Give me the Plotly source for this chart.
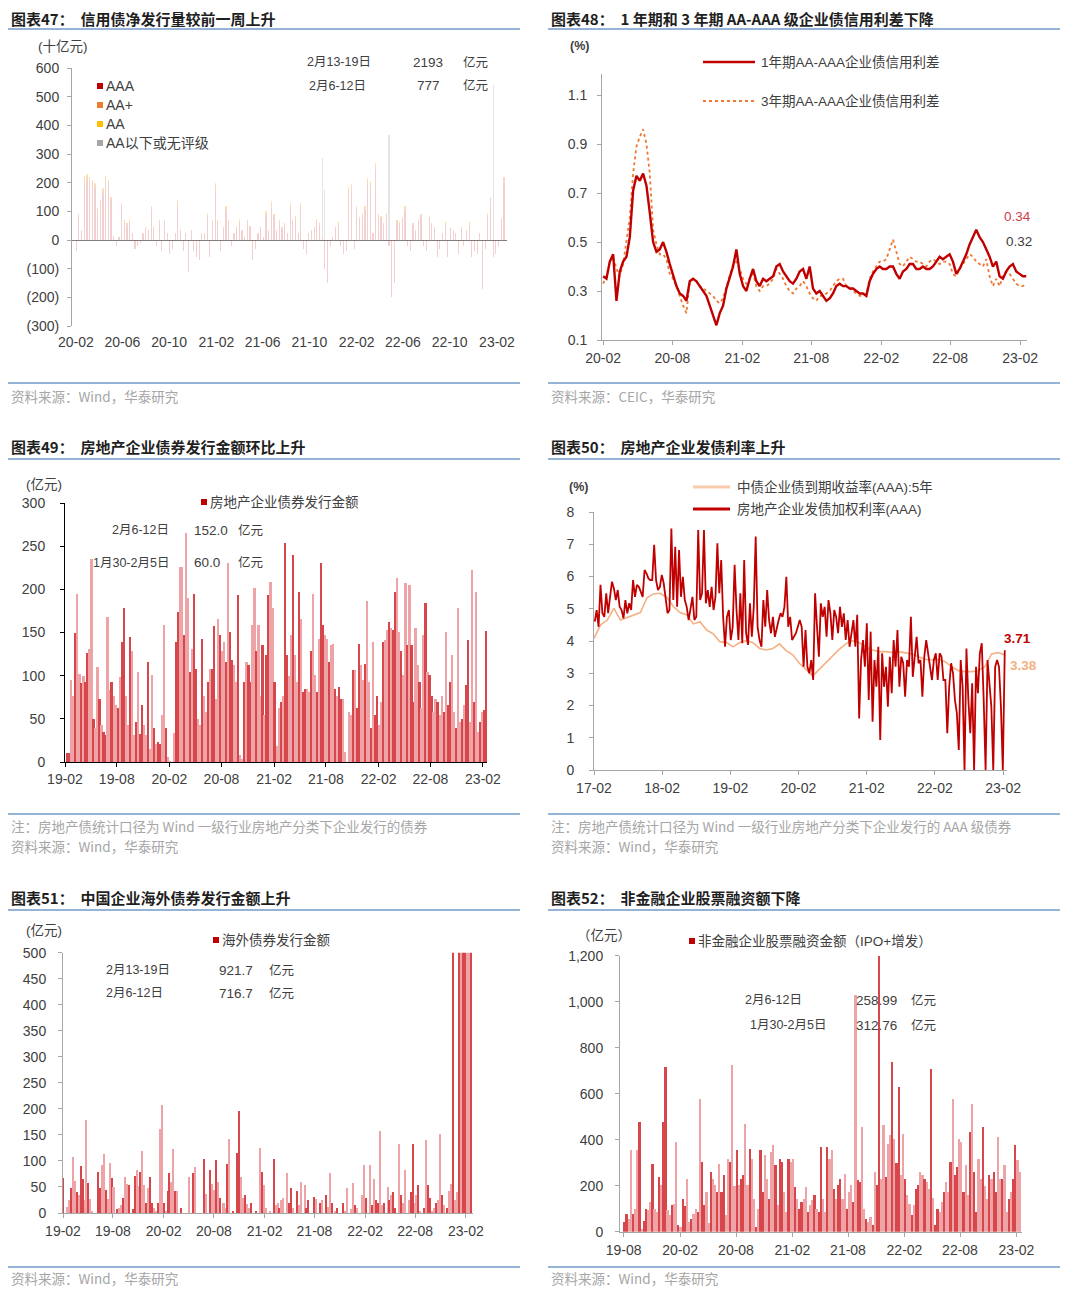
import pandas as pd
import plotly.graph_objects as go

# The page body keeps its default 8px margin; the figure is sized to fit the 1080x1303 window
OFF = 8
W, H = 1080 - 2 * OFF, 1303 - 2 * OFF
def X(px): return (px - OFF) / W
def Y(py): return 1 - (py - OFF) / H
DAY = 86400000

# ---------------- DATA ----------------
# 图表47 credit bond net issuance, weekly (十亿元)
p47_start, p47_end = "2020-02-02", "2023-02-19"
p47_aaa = [-40, 80, 30, 200, 210, 195, 200, 180, 100, 130, 160, 200, 195, 140, 15, -20, 10, 120,
           60, 50, 60, 20, -30, -20, -10, 20, 40, 30, 100, 40, -20, 60, -40, 60, 20,
           -50, -30, 20, 120, 30, -40, 20, -110, 30, -40, -60, -70, 20, 20, 80, -60, 60,
           175, 60, -40, 40, 100, 60, -20, 20, 40, 60, 30, 10, 60, 40, -70, -30, 20,
           40, 10, 80, 30, 110, 80, 30, 60, 40, 50, 20, 110, 60, 70, 20, 110, -30, -50,
           20, 30, 40, 60, 50, 10, -100, -150, -20, 10, 40, 50, -20, -50, -40, 160, 170, -30,
           100, 70, 80, 100, 190, 180, 20, 240, 80, 70, 50, 80, -20, -200, -150, 60, 50,
           70, 100, -20, -40, 50, 30, 60, 80, -20, -40, 70, 50, 40, -60, -30, 20, 50, -60,
           40, 30, 20, -50, 40, -20, 30, 50, -60, -40, -50, 20, -170, -30, 80, 130, -60, -50,
           -20, 67.7, 199.3]
p47_aaplus = [0, 10, 5, 20, 15, 20, 10, 15, 10, 10, 15, 20, 10, 10, 0, 0, 0, 10,
              10, 10, 10, 5, 0, 0, 0, 5, 5, 5, 15, 10, 0, 10, 0, 10, 5,
              0, 0, 5, 15, 5, 0, 5, 0, 5, 0, 0, 0, 5, 5, 10, 0, 10,
              20, 10, 0, 5, 15, 10, 0, 5, 10, 10, 5, 0, 10, 10, 0, 0, 5,
              5, 0, 15, 5, 20, 10, 5, 10, 5, 10, 5, 15, 10, 10, 5, 15, 0, 0,
              5, 5, 5, 10, 10, 0, 0, 0, 0, 0, 5, 10, 0, 0, 0, 20, 20, 0,
              15, 10, 10, 15, 20, 20, 5, 25, 10, 10, 10, 10, 0, 0, 0, 10, 10,
              10, 15, 0, 0, 10, 5, 10, 10, 0, 0, 10, 10, 5, 0, 0, 5, 10, 0,
              5, 5, 5, 0, 5, 0, 5, 10, 0, 0, 0, 5, 0, 0, 10, 15, 0, 0,
              0, 10, 20]
p47_aa = [0, 0, 0, 5, 5, 5, 0, 5, 0, 0, 5, 5, 5, 0, 0, 0, 0, 0,
          0, 0, 5, 0, 0, 0, 0, 0, 0, 0, 5, 0, 0, 0, 0, 0, 0,
          0, 0, 0, 5, 0, 0, 0, 0, 0, 0, 0, 0, 0, 0, 5, 0, 0,
          5, 0, 0, 0, 5, 0, 0, 0, 0, 5, 0, 0, 0, 0, 0, 0, 0,
          0, 0, 5, 0, 5, 0, 0, 0, 0, 0, 0, 5, 0, 5, 0, 5, 0, 0,
          0, 0, 0, 5, 0, 0, 0, 0, 0, 0, 0, 5, 0, 0, 0, 5, 5, 0,
          5, 0, 5, 5, 5, 5, 0, 5, 0, 5, 0, 5, 0, 0, 0, 0, 5,
          0, 5, 0, 0, 0, 0, 5, 0, 0, 0, 5, 0, 0, 0, 0, 0, 5, 0,
          0, 0, 0, 0, 0, 0, 0, 5, 0, 0, 0, 0, 0, 0, 5, 5, 0, 0,
          0, 0, 0]
p47_below = [0, 0, 0, 0, 0, 0, 0, 0, 0, 0, 0, 0, 0, 0, 0, 0, 0, 0,
             0, 0, 0, 0, 0, 0, 0, 0, 0, 0, 0, 0, 0, 0, 0, 0, 0,
             0, 0, 0, 0, 0, 0, 0, 0, 0, 0, 0, 0, 0, 0, 0, 0, 0,
             0, 0, 0, 0, 0, 0, 0, 0, 0, 0, 0, 0, 0, 0, 0, 0, 0,
             0, 0, 0, 0, 0, 0, 0, 0, 0, 0, 0, 0, 0, 0, 0, 0, 0, 0,
             0, 0, 0, 0, 0, 276, 174, 0, 0, 0, 0, 0, 0, 0, 0, 0, 0, 0,
             0, 0, 0, 0, 0, 0, 0, 0, 0, 0, 0, 0, 366, 0, 0, 0, 0,
             0, 0, 0, 0, 0, 0, 0, 0, 0, 0, 0, 0, 0, 0, 0, 0, 0, 0,
             0, 0, 0, 0, 0, 0, 0, 0, 0, 0, 0, 0, 0, 0, 0, 0, 540, 0,
             0, 0, 0]
p47_yticks = [-300, -200, -100, 0, 100, 200, 300, 400, 500, 600]
p47_yticktext = ["(300)", "(200)", "(100)", "0", "100", "200", "300", "400", "500", "600"]

# 图表48 AA-AAA credit spreads (%)
p48_start, p48_end = "2020-02-01", "2023-02-17"
p48_1y = [0.36, 0.35, 0.42, 0.45, 0.26, 0.38, 0.42, 0.44, 0.52, 0.71,
          0.77, 0.75, 0.78, 0.73, 0.62, 0.50, 0.46, 0.47, 0.50, 0.46,
          0.41, 0.36, 0.32, 0.29, 0.28, 0.26, 0.34, 0.35, 0.34, 0.32,
          0.30, 0.28, 0.24, 0.20, 0.16, 0.21, 0.24, 0.31, 0.36, 0.40,
          0.47, 0.37, 0.32, 0.30, 0.35, 0.39, 0.34, 0.32, 0.35, 0.34,
          0.35, 0.36, 0.40, 0.41, 0.38, 0.36, 0.34, 0.33, 0.35, 0.38,
          0.39, 0.35, 0.40, 0.31, 0.29, 0.30, 0.28, 0.26, 0.27, 0.29,
          0.32, 0.33, 0.32, 0.32, 0.31, 0.31, 0.30, 0.29, 0.29, 0.28,
          0.34, 0.37, 0.39, 0.40, 0.39, 0.39, 0.40, 0.40, 0.37, 0.35,
          0.38, 0.39, 0.41, 0.41, 0.39, 0.39, 0.40, 0.39, 0.39, 0.40,
          0.42, 0.44, 0.43, 0.44, 0.45, 0.42, 0.37, 0.39, 0.42, 0.45,
          0.49, 0.52, 0.55, 0.52, 0.50, 0.47, 0.44, 0.40, 0.42, 0.36,
          0.35, 0.38, 0.40, 0.41, 0.38, 0.37, 0.36, 0.36]
p48_3y = [0.33, 0.36, 0.42, 0.44, 0.39, 0.36, 0.41, 0.50, 0.60, 0.78,
          0.89, 0.93, 0.96, 0.90, 0.78, 0.55, 0.49, 0.45, 0.45, 0.43,
          0.37, 0.35, 0.32, 0.28, 0.24, 0.21, 0.34, 0.35, 0.34, 0.32,
          0.31, 0.30, 0.29, 0.28, 0.26, 0.25, 0.27, 0.32, 0.37, 0.41,
          0.42, 0.39, 0.35, 0.33, 0.35, 0.37, 0.32, 0.30, 0.32, 0.32,
          0.33, 0.35, 0.39, 0.37, 0.35, 0.32, 0.30, 0.29, 0.31, 0.32,
          0.34, 0.32, 0.29, 0.27, 0.26, 0.28, 0.28, 0.29, 0.30, 0.32,
          0.34, 0.35, 0.35, 0.32, 0.31, 0.30, 0.29, 0.28, 0.28, 0.29,
          0.35, 0.38, 0.40, 0.42, 0.42, 0.43, 0.47, 0.51, 0.46, 0.41,
          0.40, 0.42, 0.44, 0.43, 0.42, 0.42, 0.41, 0.40, 0.42, 0.43,
          0.42, 0.41, 0.42, 0.42, 0.41, 0.37, 0.36, 0.39, 0.41, 0.43,
          0.45, 0.44, 0.42, 0.41, 0.40, 0.43, 0.36, 0.32, 0.35, 0.32,
          0.36, 0.38, 0.37, 0.35, 0.33, 0.32, 0.32, 0.33]

# 图表49 real-estate bond issuance, weekly (亿元)
p49_start, p49_end = "2019-02-10", "2023-02-12"
p49_vals = [10, 10, 95, 77, 150, 195, 102, 91, 100, 93, 126, 131, 235, 50, 39, 110, 73, 43, 35, 31,
            168, 83, 93, 77, 66, 62, 99, 139, 178, 77, 43, 145, 128, 31, 46, 104, 33, 66, 43, 31,
            116, 15, 101, 39, 21, 23, 21, 54, 159, 39, 6, 1, 0, 34, 139, 174, 226, 226, 147, 265,
            190, 104, 131, 195, 108, 50, 43, 143, 77, 58, 93, 108, 108, 157, 73, 166, 147, 128, 139, 116,
            230, 151, 118, 112, 93, 193, 8, 4, 93, 116, 112, 93, 159, 201, 128, 159, 77, 135, 54, 124,
            193, 209, 178, 93, 19, 62, 70, 77, 254, 124, 100, 147, 240, 124, 93, 197, 166, 81, 85, 85,
            81, 128, 195, 101, 81, 143, 230, 159, 147, 143, 116, 135, 137, 85, 77, 87, 73, 73, 12, 0,
            58, 54, 106, 106, 62, 137, 112, 95, 114, 186, 93, 39, 139, 54, 77, 43, 70, 139, 141, 153,
            162, 155, 153, 197, 213, 151, 128, 101, 207, 135, 205, 135, 70, 155, 112, 93, 62, 147, 184, 104,
            101, 77, 58, 73, 70, 54, 77, 58, 151, 66, 93, 124, 58, 39, 178, 46, 50, 66, 89, 141,
            46, 222, 70, 197, 35, 46, 58, 60, 152]

# 图表50 real-estate AAA issuance rate vs 5y AAA yield (%)
p50_yield_start, p50_yield_end = "2017-02-01", "2023-02-10"
p50_yield = [4.08, 4.50, 4.65, 5.01, 4.65, 4.73, 4.81, 4.88, 5.34, 5.46,
             5.48, 5.35, 5.06, 4.88, 4.81, 4.53, 4.60, 4.34, 4.22, 3.98,
             3.95, 3.82, 3.95, 4.01, 3.95, 3.77, 3.72, 3.77, 3.91, 3.70,
             3.57, 3.31, 3.12, 2.91, 3.12, 3.33, 3.53, 3.74, 3.91, 4.01,
             3.95, 3.82, 3.72, 3.67, 3.67, 3.64, 3.67, 3.64, 3.60, 3.51,
             3.43, 3.41, 3.43, 3.36, 3.20, 3.08, 3.05, 3.05, 3.08, 3.20,
             3.60, 3.64, 3.57]
p50_rate_start, p50_rate_end = "2017-02-05", "2023-02-10"
p50_rate = [4.60, 4.96, 4.44, 5.74, 4.86, 4.75, 5.48, 4.86, 5.37, 5.84, 5.63, 5.27, 5.58, 5.06, 4.96,
            4.70, 5.27, 4.86, 5.17, 4.96, 5.89, 5.37, 5.74, 5.68, 5.53, 5.37, 6.20, 6.10, 5.94, 5.89,
            5.89, 6.98, 5.89, 5.58, 5.68, 6.05, 5.79, 5.37, 4.86, 4.96, 7.49, 5.27, 6.92, 5.06, 6.82,
            5.37, 5.99, 5.27, 5.06, 4.65, 5.06, 5.37, 4.65, 4.75, 7.44, 5.27, 5.48, 7.44, 5.17, 5.58,
            5.06, 5.68, 4.96, 5.37, 7.03, 5.48, 6.51, 4.75, 3.82, 4.75, 4.96, 4.03, 4.44, 6.36, 4.96,
            4.03, 5.48, 3.93, 6.51, 4.24, 3.88, 5.17, 4.13, 5.06, 7.24, 4.44, 4.03, 3.82, 5.27, 4.44,
            5.58, 4.65, 4.24, 4.75, 4.13, 4.44, 4.65, 4.86, 4.75, 5.06, 5.99, 4.44, 4.75, 4.03, 4.13,
            4.24, 4.44, 4.65, 4.44, 3.20, 4.34, 3.20, 3.00, 3.41, 2.79, 5.48, 4.44, 3.51, 5.17, 4.75,
            5.06, 4.13, 5.27, 4.86, 4.03, 4.96, 4.75, 4.24, 5.06, 4.44, 4.86, 4.03, 4.65, 3.82, 4.24,
            4.65, 3.82, 4.81, 1.60, 3.41, 4.03, 3.20, 4.55, 2.17, 4.29, 1.50, 3.41, 2.58, 3.82, 0.93,
            3.62, 2.58, 3.20, 1.96, 3.51, 2.38, 4.03, 3.20, 4.34, 2.58, 3.51, 3.31, 2.27, 3.41, 3.20,
            4.75, 2.89, 3.62, 4.13, 3.31, 3.41, 2.27, 3.51, 4.03, 3.62, 3.20, 2.79, 3.41, 3.62, 2.79,
            3.62, 3.51, 2.79, 2.79, 1.14, 2.58, 3.31, 3.00, 2.17, 1.76, 0.62, 3.41, 2.58, 0.00, 3.77,
            2.17, 1.14, 2.69, 0.00, 3.20, 2.38, 3.62, 3.93, 2.17, 0.00, 3.41, 2.58, 1.96, 0.00, 3.20,
            3.41, 3.20, 1.96, 0.00, 3.71]

# 图表51 overseas bond issuance, weekly (亿元)
p51_start, p51_end = "2019-02-03", "2023-02-19"
p51_vals = [67, 0, 12, 25, 48, 108, 62, 40, 35, 90, 65, 25, 180, 58, 27, 5, 0, 0, 80, 48, 92, 113, 45, 28, 97, 67,
            50, 0, 8, 10, 15, 30, 70, 56, 55, 0, 8, 72, 84, 52, 80, 120, 55, 20, 48, 70, 20, 10, 5, 20, 161, 208,
            20, 5, 42, 77, 60, 123, 42, 42, 0, 10, 0, 0, 0, 70, 0, 77, 88, 0, 0, 0, 0, 104, 38, 0, 84, 56,
            45, 102, 60, 30, 0, 19, 10, 94, 142, 0, 5, 0, 115, 197, 70, 30, 35, 18, 10, 20, 0, 0, 5, 0, 125, 80,
            55, 10, 0, 5, 0, 104, 15, 20, 10, 25, 30, 0, 77, 20, 48, 10, 0, 42, 15, 61, 0, 55, 10, 26, 0, 0,
            32, 28, 0, 20, 25, 0, 35, 12, 77, 20, 0, 5, 10, 0, 0, 19, 5, 48, 0, 8, 58, 15, 10, 0, 0, 35,
            92, 30, 0, 92, 15, 65, 25, 20, 159, 15, 20, 0, 51, 25, 35, 40, 10, 0, 134, 35, 20, 83, 0, 25, 40, 134,
            20, 35, 55, 5, 0, 10, 141, 55, 30, 5, 10, 20, 25, 153, 35, 15, 0, 10, 43, 56, 650, 25, 40, 580, 610, 560,
            640, 520, 716.7, 921.7]

# 图表52 non-financial equity financing, weekly (亿元)
p52_start, p52_end = "2019-08-04", "2023-02-12"
p52_vals = [43, 80, 58, 355, 80, 101, 355, 478, 15, 50, 101, 95, 130, 297, 101, 85, 239, 203, 478, 717, 94, 72, 116, 123, 391, 30,
            20, 145, 115, 232, 43, 58, 80, 101, 87, 580, 304, 116, 174, 40, 261, 232, 203, 174, 297, 174, 246, 72, 319, 304, 725, 200,
            355, 203, 232, 250, 468, 203, 362, 319, 145, 20, 101, 355, 174, 333, 232, 145, 348, 377, 290, 116, 319, 304, 174, 87, 319, 304,
            319, 196, 145, 101, 130, 145, 196, 87, 116, 137, 159, 101, 87, 370, 145, 87, 370, 319, 355, 188, 145, 203, 232, 145, 254, 101,
            174, 203, 130, 1029, 225, 217, 456, 101, 58, 43, 65, 30, 261, 203, 1200, 232, 464, 240, 384, 420, 739, 404, 300, 630, 250, 428,
            232, 159, 123, 72, 116, 188, 203, 261, 246, 232, 217, 188, 710, 150, 30, 101, 87, 130, 174, 217, 174, 304, 580, 246, 283, 406,
            391, 174, 290, 160, 435, 558, 261, 87, 319, 232, 456, 200, 145, 246, 232, 261, 174, 413, 232, 232, 290, 87, 145, 174, 232, 377,
            312.76, 258.99]

# ---------------- STYLE ----------------
FONT = "Liberation Sans, Arial, Noto Sans CJK SC, sans-serif"
CJK = "Noto Sans CJK SC, Liberation Sans, sans-serif"
TICKC = "#404040"
TICKSIZE = 14
RED = "#C00000"
DARKBAR = "rgb(214,70,74)"
LIGHTBAR = "rgb(238,164,166)"
RULE = "#95B3D7"


def dates(start, end, n):
    return pd.date_range(start, end, periods=n)


def shades(n):
    pat = [DARKBAR, DARKBAR, LIGHTBAR, LIGHTBAR, DARKBAR, LIGHTBAR, LIGHTBAR, DARKBAR, LIGHTBAR]
    return [pat[i % len(pat)] for i in range(n)]


fig = go.Figure()

# Panel 47 stacked bars
d47 = dates(p47_start, p47_end, len(p47_aaa))
for vals, col in [(p47_aaa, "rgba(205,60,60,0.24)"), (p47_aaplus, "rgba(237,125,49,0.30)"),
                  (p47_aa, "rgba(255,192,0,0.35)"), (p47_below, "rgba(170,170,170,0.30)")]:
    fig.add_trace(go.Bar(x=d47, y=vals, marker=dict(color=col, line=dict(width=0)),
                         width=3.0 * DAY, xaxis="x", yaxis="y", showlegend=False))

# Panel 48 lines
d48a = dates(p48_start, p48_end, len(p48_1y))
d48b = dates(p48_start, p48_end, len(p48_3y))
fig.add_trace(go.Scatter(x=d48b, y=p48_3y, mode="lines", line=dict(color="#F07830", width=1.8, dash="dot"),
                         xaxis="x2", yaxis="y2", showlegend=False))
fig.add_trace(go.Scatter(x=d48a, y=p48_1y, mode="lines", line=dict(color=RED, width=2.4),
                         xaxis="x2", yaxis="y2", showlegend=False))

# Panel 49 bars
d49 = dates(p49_start, p49_end, len(p49_vals))
fig.add_trace(go.Bar(x=d49, y=p49_vals, marker=dict(color=shades(len(p49_vals)), line=dict(width=0)),
                     width=6 * DAY, xaxis="x3", yaxis="y3", showlegend=False))

# Panel 50 lines
d50y = dates(p50_yield_start, p50_yield_end, len(p50_yield))
d50r = dates(p50_rate_start, p50_rate_end, len(p50_rate))
fig.add_trace(go.Scatter(x=d50y, y=p50_yield, mode="lines", line=dict(color="#F4B183", width=1.6),
                         xaxis="x4", yaxis="y4", showlegend=False))
fig.add_trace(go.Scatter(x=d50r, y=p50_rate, mode="lines", line=dict(color=RED, width=1.8),
                         xaxis="x4", yaxis="y4", showlegend=False))

# Panel 51 bars
d51 = dates(p51_start, p51_end, len(p51_vals))
fig.add_trace(go.Bar(x=d51, y=p51_vals, marker=dict(color=shades(len(p51_vals)), line=dict(width=0)),
                     width=5.6 * DAY, xaxis="x5", yaxis="y5", showlegend=False))

# Panel 52 bars
d52 = dates(p52_start, p52_end, len(p52_vals))
fig.add_trace(go.Bar(x=d52, y=p52_vals, marker=dict(color=shades(len(p52_vals)), line=dict(width=0)),
                     width=5.6 * DAY, xaxis="x6", yaxis="y6", showlegend=False))


def xaxis(dom, rng, tick0, dtick, anchor, linecolor="#A6A6A6", showline=True, ticks="outside", standoff=1):
    return dict(domain=dom, range=rng, type="date", tick0=tick0, dtick=dtick, tickformat="%y-%m",
                anchor=anchor, showline=showline, linecolor=linecolor, linewidth=1, ticks=ticks,
                ticklen=4, tickcolor=linecolor, showgrid=False, zeroline=False, automargin=False,
                tickfont=dict(size=TICKSIZE, color=TICKC, family=FONT), ticklabelstandoff=standoff)


def yaxis(dom, rng, anchor, tickvals, ticktext=None, linecolor="#A6A6A6", standoff=3, zeroline=False):
    d = dict(domain=dom, range=rng, anchor=anchor, showline=True, linecolor=linecolor, linewidth=1,
             ticks="outside", ticklen=4, tickcolor=linecolor, showgrid=False, zeroline=zeroline,
             tickvals=tickvals, tickfont=dict(size=TICKSIZE, color=TICKC, family=FONT), automargin=False,
             ticklabelstandoff=standoff)
    if ticktext is not None:
        d["ticktext"] = ticktext
    if zeroline:
        d.update(zerolinecolor="#7F7F7F", zerolinewidth=1)
    return d


layout = dict(
    width=W, height=H, autosize=False,
    margin=dict(l=0, r=0, t=0, b=0, pad=0, autoexpand=False),
    paper_bgcolor="white", plot_bgcolor="rgba(0,0,0,0)",
    font=dict(family=FONT, size=12, color=TICKC),
    barmode="relative", bargap=0, showlegend=False,
    xaxis=xaxis([X(72), X(507)], ["2020-01-22", "2023-02-27"], "2020-02-01", "M4", "y",
                showline=False, ticks="", standoff=6),
    yaxis=yaxis([Y(326), Y(68)], [-300, 600], "x", p47_yticks, p47_yticktext, zeroline=True, standoff=5),
    xaxis2=xaxis([X(602), X(1027)], ["2020-01-29", "2023-02-19"], "2020-02-01", "M6", "y2", standoff=1),
    yaxis2=yaxis([Y(340), Y(74)], [0.1, 1.186], "x2", [0.1, 0.3, 0.5, 0.7, 0.9, 1.1],
                 ["0.1", "0.3", "0.5", "0.7", "0.9", "1.1"], standoff=7),
    xaxis3=xaxis([X(65), X(487)], ["2019-02-01", "2023-02-15"], "2019-02-01", "M6", "y3",
                 linecolor="#000000", standoff=0),
    yaxis3=yaxis([Y(762), Y(503)], [0, 300], "x3", [0, 50, 100, 150, 200, 250, 300],
                 linecolor="#000000", standoff=12),
    xaxis4=xaxis([X(594), X(1007)], ["2017-02-01", "2023-02-22"], "2017-02-01", "M12", "y4", standoff=1),
    yaxis4=yaxis([Y(770), Y(512)], [0, 8], "x4", [0, 1, 2, 3, 4, 5, 6, 7, 8], standoff=12),
    xaxis5=xaxis([X(63), X(473)], ["2019-02-01", "2023-02-27"], "2019-02-01", "M6", "y5", standoff=1),
    yaxis5=yaxis([Y(1213), Y(952.7)], [0, 500], "x5", list(range(0, 501, 50)), standoff=9),
    xaxis6=xaxis([X(620), X(1022)], ["2019-07-20", "2023-02-19"], "2019-08-01", "M6", "y6", standoff=1),
    yaxis6=yaxis([Y(1231.7), Y(955.7)], [0, 1200], "x6", [0, 200, 400, 600, 800, 1000, 1200],
                 ["0", "200", "400", "600", "800", "1,000", "1,200"], standoff=9),
)
fig.update_layout(**layout)

shapes = []
annotations = []


def text(t, x, y, size=12, color=TICKC, xanchor="left", bold=False, family=FONT):
    annotations.append(dict(text=("<b>%s</b>" % t) if bold else t, x=X(x), y=Y(y), xref="paper",
                            yref="paper", showarrow=False, xanchor=xanchor, yanchor="middle",
                            borderpad=0, font=dict(size=size, color=color, family=family)))


def hline(x0, x1, y, color=RULE, width=2, dash=None):
    ln = dict(color=color, width=width)
    if dash:
        ln["dash"] = dash
    shapes.append(dict(type="line", xref="paper", yref="paper", x0=X(x0), x1=X(x1), y0=Y(y), y1=Y(y), line=ln))


def square(x, y, color, s=6):
    shapes.append(dict(type="rect", xref="paper", yref="paper", x0=X(x - s / 2), x1=X(x + s / 2),
                       y0=Y(y + s / 2), y1=Y(y - s / 2), fillcolor=color, line=dict(width=0)))


# titles and rules
titles = [
    ("图表47：  信用债净发行量较前一周上升", 10, 18),
    ("图表48：  1 年期和 3 年期 AA-AAA 级企业债信用利差下降", 550, 18),
    ("图表49：  房地产企业债券发行金额环比上升", 10, 447),
    ("图表50：  房地产企业发债利率上升", 550, 447),
    ("图表51：  中国企业海外债券发行金额上升", 10, 897),
    ("图表52：  非金融企业股票融资额下降", 550, 897),
]
for t, x, y in titles:
    text(t, x, y, size=15, color="#1F1F1F", bold=True, family=CJK)

for y in (29, 459, 910, 383, 814, 1267):
    hline(8, 520, y)
    hline(548, 1060, y)

SRC = "#A6A6A6"
NOTE = 13.5
text("资料来源：Wind，华泰研究", 10, 396, NOTE, SRC, family=CJK)
text("资料来源：CEIC，华泰研究", 550, 396, NOTE, SRC, family=CJK)
text("注：房地产债统计口径为 Wind 一级行业房地产分类下企业发行的债券", 10, 826, NOTE, SRC, family=CJK)
text("资料来源：Wind，华泰研究", 10, 846, NOTE, SRC, family=CJK)
text("注：房地产债统计口径为 Wind 一级行业房地产分类下企业发行的 AAA 级债券", 550, 826, NOTE, SRC, family=CJK)
text("资料来源：Wind，华泰研究", 550, 846, NOTE, SRC, family=CJK)
text("资料来源：Wind，华泰研究", 10, 1278, NOTE, SRC, family=CJK)
text("资料来源：Wind，华泰研究", 550, 1278, NOTE, SRC, family=CJK)

LEG = 13.5
# Panel 47 annotations / legend
text("(十亿元)", 63, 47, 13.5, TICKC, "center")
for lab, col, y in [("AAA", RED, 86), ("AA+", "#ED7D31", 105), ("AA", "#FFC000", 124), ("AA以下或无评级", "#A6A6A6", 143)]:
    square(100, y, col)
    text(lab, 105, y, 14, TICKC)
text("2月13-19日", 306, 62, 12.5)
text("2193", 428, 62, 13.5, xanchor="center")
text("亿元", 462, 62, 12.5)
text("2月6-12日", 308, 86, 12.5)
text("777", 428, 86, 13.5, xanchor="center")
text("亿元", 462, 86, 12.5)

# Panel 48
text("(%)", 579, 46, 12.5, TICKC, "center", bold=True)
hline(703, 755, 62, RED, 2.5)
text("1年期AA-AAA企业债信用利差", 760, 62, LEG, TICKC)
hline(703, 755, 101, "#F07830", 2, "dot")
text("3年期AA-AAA企业债信用利差", 760, 101, LEG, TICKC)
text("0.34", 1017, 217, 13.5, "#D0404A", "center")
text("0.32", 1019, 241, 13.5, "#404040", "center")

# Panel 49
text("(亿元)", 44, 484, 13.5, TICKC, "center")
square(204, 502, RED)
text("房地产企业债券发行金额", 209, 502, LEG, TICKC)
text("2月6-12日", 170, 530, 12.5, xanchor="right")
text("152.0", 193, 530, 13.5)
text("亿元", 237, 530, 12.5)
text("1月30-2月5日", 170, 563, 12.5, xanchor="right")
text("60.0", 193, 563, 13.5)
text("亿元", 237, 563, 12.5)

# Panel 50
text("(%)", 578, 487, 12.5, TICKC, "center", bold=True)
hline(693, 730, 487, "#F8CBAD", 3)
text("中债企业债到期收益率(AAA):5年", 736, 487, LEG, TICKC)
hline(693, 730, 509, RED, 3)
text("房地产企业发债加权利率(AAA)", 736, 509, LEG, TICKC)
text("3.71", 1017, 638, 13.5, RED, "center", bold=True)
text("3.38", 1023, 665, 13.5, "#F4B183", "center", bold=True)

# Panel 51
text("(亿元)", 44, 930, 13.5, TICKC, "center")
square(216, 940, RED)
text("海外债券发行金额", 221, 940, LEG, TICKC)
text("2月13-19日", 105, 970, 12.5)
text("921.7", 254, 970, 13.5, xanchor="right")
text("亿元", 268, 970, 12.5)
text("2月6-12日", 105, 993, 12.5)
text("716.7", 254, 993, 13.5, xanchor="right")
text("亿元", 268, 993, 12.5)

# Panel 52
text("（亿元）", 604, 935, 13.5, TICKC, "center")
square(692, 941, RED)
text("非金融企业股票融资金额（IPO+增发）", 697, 941, LEG, TICKC)
text("2月6-12日", 744, 1000, 12.5)
text("258.99", 855, 1000, 13.5)
text("亿元", 910, 1000, 12.5)
text("1月30-2月5日", 749, 1025, 12.5)
text("312.76", 855, 1025, 13.5)
text("亿元", 910, 1025, 12.5)

fig.update_layout(shapes=shapes, annotations=annotations)
fig.write_html("out.html")
